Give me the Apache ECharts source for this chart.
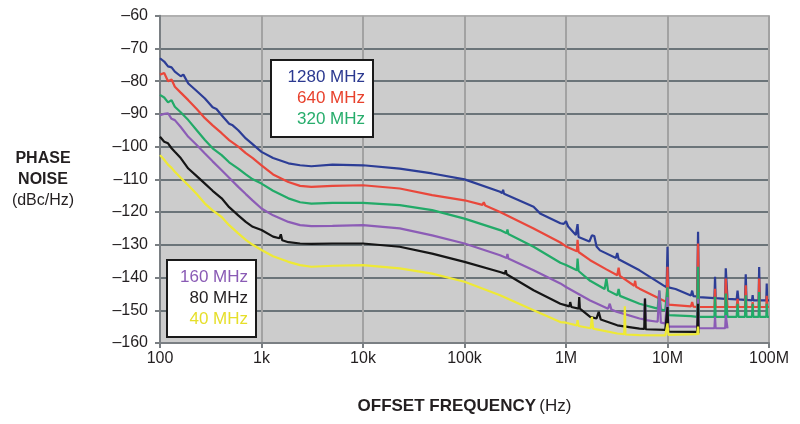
<!DOCTYPE html>
<html><head><meta charset="utf-8">
<script src="https://cdn.jsdelivr.net/npm/echarts@6/dist/echarts.min.js"></script>
<style>html,body{margin:0;padding:0;background:#fff}#c{width:800px;height:424px}</style>
</head><body><div id="c"></div>
<script>
// Tick labels
const xTickLabels = {100:'100',1000:'1k',10000:'10k',100000:'100k',1000000:'1M',10000000:'10M',100000000:'100M'};
const yTicks = [-160,-150,-140,-130,-120,-110,-100,-90,-80,-70,-60];
const seriesNames = ['1280 MHz','640 MHz','320 MHz','160 MHz','80 MHz','40 MHz'];

// [offset frequency Hz, phase noise dBc/Hz]
const d1280 = [[100,-73],[110,-74],[120,-75.5],[130,-75.8],[140,-77.1],[160,-78.5],[170,-78],[190,-80.7],[230,-83],[277,-85.3],[330,-88],[360,-88.5],[405,-90.4],[480,-93],[520,-93.5],[590,-95],[700,-97.5],[800,-99],[1000,-101.6],[1300,-103.5],[1840,-105.1],[2400,-105.7],[3100,-106],[5000,-105.5],[10000,-105.7],[23000,-106.7],[48000,-108.2],[100000,-110],[224000,-113.8],[235000,-114.2],[240000,-113.2],[245000,-114.4],[479000,-118.4],[555000,-120.4],[880000,-123.4],[950000,-123.6],[1000000,-122.8],[1050000,-124.4],[1250000,-127],[1300000,-123.7],[1330000,-127.6],[1700000,-129],[1800000,-127.1],[1900000,-127.3],[2000000,-130.5],[2160000,-131.7],[3100000,-134],[3200000,-132.5],[3300000,-134.4],[5300000,-137.8],[9100000,-142.4],[9800000,-143],[10000000,-130.6],[10200000,-143],[12000000,-143.5],[17000000,-145.5],[17500000,-144],[18000000,-145.7],[19600000,-145.8],[20000000,-126],[20400000,-146],[29000000,-146.3],[29400000,-139.8],[29800000,-146.3],[37000000,-146.5],[37500000,-137.2],[38500000,-137.2],[39000000,-146.5],[48000000,-146.7],[49000000,-144],[50000000,-146.7],[58000000,-146.8],[59000000,-139],[60000000,-146.8],[68000000,-147],[69000000,-145.4],[70000000,-147],[79000000,-147],[80000000,-136.8],[81000000,-147],[94000000,-147],[95000000,-141.8],[96000000,-147],[100000000,-147]];
const d640 = [[100,-78],[110,-77.5],[120,-80],[130,-79.5],[140,-81.7],[160,-83.5],[190,-85.8],[230,-88.5],[277,-91.3],[330,-93.5],[405,-95.9],[480,-98],[590,-100],[700,-102],[820,-103.5],[1000,-105.7],[1300,-108.5],[1840,-110.8],[2400,-112],[3100,-112.3],[5000,-112],[10000,-111.8],[23000,-112.8],[48000,-114.8],[100000,-116.4],[150000,-117.8],[155000,-117],[160000,-118],[224000,-120],[479000,-125],[880000,-129.3],[1000000,-130.5],[1280000,-132],[1300000,-128.5],[1330000,-132.2],[1730000,-134.7],[2500000,-137.5],[3200000,-139.3],[3300000,-137],[3400000,-139.5],[4700000,-142.5],[4800000,-141],[4900000,-142.8],[5300000,-143.4],[9100000,-147],[9800000,-147.5],[10000000,-136.7],[10200000,-148.3],[17000000,-148.8],[17500000,-147.5],[18000000,-148.9],[19600000,-149],[20000000,-129.6],[20400000,-149],[29000000,-149],[29400000,-143.4],[29800000,-149],[37000000,-149],[37500000,-140.3],[38500000,-140.3],[39000000,-149],[48000000,-149],[49000000,-146.5],[50000000,-149],[58000000,-149],[59000000,-142.4],[60000000,-149],[68000000,-149],[69000000,-147.5],[70000000,-149],[79000000,-149],[80000000,-140.3],[81000000,-149],[94000000,-149],[95000000,-145.6],[96000000,-149],[100000000,-149]];
const d320 = [[100,-84.2],[110,-85],[120,-86.5],[130,-85.8],[140,-87.8],[160,-89.5],[190,-91.9],[230,-95],[277,-98],[330,-100.5],[405,-102.6],[480,-104.8],[590,-106.7],[700,-108.5],[820,-110],[1000,-111.3],[1300,-113.5],[1840,-115.8],[2400,-117],[3100,-117.4],[5000,-117.2],[10000,-117.2],[23000,-117.9],[48000,-119.4],[100000,-122],[224000,-125.5],[260000,-126.5],[265000,-125.3],[270000,-126.7],[479000,-130.6],[880000,-135.5],[1000000,-136.2],[1280000,-137.8],[1300000,-134.2],[1330000,-138],[1730000,-141],[2400000,-143.5],[2500000,-140.3],[2600000,-144],[3200000,-145.4],[3300000,-143.5],[3400000,-145.6],[5300000,-148],[8000000,-149.5],[8300000,-144],[8600000,-149.8],[9500000,-150],[10000000,-143],[10200000,-151.5],[17000000,-151.8],[19600000,-152],[20000000,-136.7],[20400000,-152],[29000000,-152],[29400000,-145.9],[29800000,-152],[37000000,-152],[37500000,-144.9],[38500000,-144.9],[39000000,-152],[48000000,-152],[49000000,-148],[50000000,-152],[58000000,-152],[59000000,-145.4],[60000000,-152],[68000000,-152],[69000000,-148],[70000000,-152],[79000000,-152],[80000000,-144.4],[81000000,-152],[94000000,-152],[95000000,-148],[96000000,-152],[100000000,-152]];
const d160 = [[100,-90.4],[110,-90],[120,-89.8],[130,-91.5],[140,-91.9],[160,-94],[190,-97],[230,-99.5],[277,-102.1],[330,-104.5],[405,-107.2],[480,-109.5],[590,-112.3],[700,-114.5],[820,-116.5],[1000,-118.9],[1300,-121],[1840,-123],[2400,-124],[3100,-124.3],[5000,-124.2],[10000,-124],[23000,-125],[48000,-127.1],[100000,-129.6],[224000,-133.2],[260000,-134],[265000,-132.8],[270000,-134.2],[479000,-137.8],[880000,-141.8],[1000000,-142.9],[1730000,-147],[2600000,-149.5],[2700000,-148],[2800000,-149.8],[3200000,-150.5],[5300000,-152.5],[5900000,-152.8],[6000000,-146.4],[6100000,-153],[8000000,-153.5],[8300000,-144],[8600000,-153.8],[9500000,-154],[10000000,-146],[10200000,-155],[19600000,-155],[20000000,-146.5],[20400000,-155.5],[29000000,-155.5],[29400000,-152],[29800000,-155.5],[37000000,-155.5],[37500000,-151.5],[38500000,-151.5],[39000000,-155.5]];
const d80 = [[100,-97],[110,-98.5],[120,-99],[130,-100.5],[140,-101.6],[160,-103.5],[190,-106.7],[230,-109],[277,-111.3],[330,-113.5],[405,-115.8],[480,-118.5],[590,-121],[700,-123],[820,-124.5],[1000,-125.5],[1300,-127.5],[1500,-128],[1550,-126.8],[1600,-128.6],[1840,-129.2],[2400,-129.6],[3100,-129.7],[5000,-129.6],[10000,-129.6],[23000,-130.6],[48000,-132.7],[100000,-135.2],[224000,-138.3],[250000,-138.8],[255000,-137.8],[260000,-139],[479000,-143.9],[880000,-148],[1000000,-148.5],[1080000,-148.8],[1100000,-147.5],[1130000,-149],[1330000,-149.5],[1350000,-146],[1370000,-149.5],[1730000,-152],[2000000,-152.5],[2100000,-150.5],[2200000,-152.8],[3200000,-154.6],[5300000,-155.6],[5900000,-155.7],[6000000,-146.4],[6100000,-155.8],[9500000,-156],[10000000,-149],[10200000,-156.5],[19600000,-156.6],[20000000,-148],[20200000,-157]];
const d40 = [[100,-102.6],[110,-104],[120,-105.5],[130,-106.5],[140,-107.7],[160,-109.5],[190,-111.8],[230,-114.5],[277,-117.4],[330,-119.5],[405,-121.5],[480,-124],[590,-126.5],[700,-128.5],[820,-130],[1000,-131.6],[1300,-133.5],[1840,-135.2],[2400,-136.2],[3100,-136.7],[5000,-136.4],[10000,-136.2],[23000,-137.2],[48000,-138.8],[100000,-141.3],[224000,-145.4],[479000,-150],[880000,-153.6],[1000000,-153.8],[1280000,-154.6],[1300000,-153],[1330000,-154.8],[1750000,-155.5],[1800000,-152],[1850000,-155.6],[3200000,-157.1],[3750000,-157.3],[3800000,-148.8],[3850000,-157.4],[5300000,-157.6],[9500000,-157.7],[10000000,-154],[10200000,-157.5],[19600000,-157.3],[20000000,-155],[20200000,-157.5]];

const seriesData = [d1280, d640, d320, d160, d80, d40];
const lineColors = ['#2c3d96','#e9473b','#22aa68','#8c5cb6','#151515','#eee935'];
const textColors = ['#2b3990','#e8412c','#27ad6c','#8a5bb5','#231f20','#e6df2a'];

const chart = echarts.init(document.getElementById('c'), null, {renderer:'canvas'});
const FONT = '"Liberation Sans", Arial, Helvetica, sans-serif';
const splitColors = yTicks.map((v,i)=> i===yTicks.length-1 ? '#b0b0b0' : '#6b7479');

function legendFor(idxs, left, top, w){
  return {
    data: idxs.map(i=>({name:seriesNames[i], textStyle:{color:textColors[i]}})),
    orient:'vertical', left:left, top:top, icon:'none', itemWidth:0, itemHeight:14, itemGap:0,
    padding:[7,8,7,4], backgroundColor:'#ffffff', borderColor:'#1a1a1a', borderWidth:2,
    selectedMode:false,
    formatter: n => '{r|' + n + '}',
    textStyle:{fontFamily:FONT, fontSize:17, lineHeight:21,
      rich:{r:{width:w, align:'right', fontFamily:FONT, fontSize:17, lineHeight:21}}}
  };
}

chart.setOption({
  animation:false,
  backgroundColor:'#ffffff',
  grid:{left:160, right:31, top:15.7, bottom:81, show:true, backgroundColor:'#cccccc', borderColor:'#acacac', borderWidth:1.5},
  legend:[legendFor([0,1,2], 271, 60, 85), legendFor([3,4,5], 167, 260, 72)],
  xAxis:{type:'log', logBase:10, min:100, max:100000000,
    name:'{b|OFFSET FREQUENCY} {n|(Hz)}', nameLocation:'middle', nameGap:55,
    nameTextStyle:{rich:{b:{fontFamily:FONT, fontWeight:'bold', fontSize:17, color:'#231f20'}, n:{fontFamily:FONT, fontSize:17, color:'#231f20'}}},
    axisLine:{show:true, lineStyle:{color:'#7a7f83', width:2}},
    axisTick:{show:true, length:5, lineStyle:{color:'#7a7f83', width:2}},
    axisLabel:{margin:8, fontFamily:FONT, fontSize:16, color:'#231f20', formatter:v=>xTickLabels[Math.round(v)]||''},
    splitLine:{show:true, lineStyle:{color:'#a2a2a2', width:2}},
    minorTick:{show:false}, minorSplitLine:{show:false}
  },
  yAxis:{type:'value', min:-160, max:-60, interval:10,
    name:'{b|PHASE}\n{b|NOISE}\n{n|(dBc/Hz)}', nameLocation:'middle', nameRotate:0, nameGap:117,
    nameTextStyle:{align:'center', rich:{b:{fontFamily:FONT, fontWeight:'bold', fontSize:16, color:'#231f20', lineHeight:21, width:74, align:'center'}, n:{fontFamily:FONT, fontSize:16, color:'#231f20', lineHeight:21, width:74, align:'center'}}},
    axisLine:{show:true, lineStyle:{color:'#7a7f83', width:2}},
    axisTick:{show:true, length:5, lineStyle:{color:'#7a7f83', width:2}},
    axisLabel:{margin:12, fontFamily:FONT, fontSize:16, color:'#231f20', formatter:v=>String(v).replace('-','\u2013')},
    splitLine:{show:true, lineStyle:{color:splitColors, width:2}}
  },
  series: seriesData.map((d,i)=>({
    name:seriesNames[i], type:'line', data:d, showSymbol:false, symbol:'none',
    lineStyle:{color:lineColors[i], width:2.2}, itemStyle:{color:lineColors[i]},
    z:2+i, silent:true
  }))
});
</script></body></html>
